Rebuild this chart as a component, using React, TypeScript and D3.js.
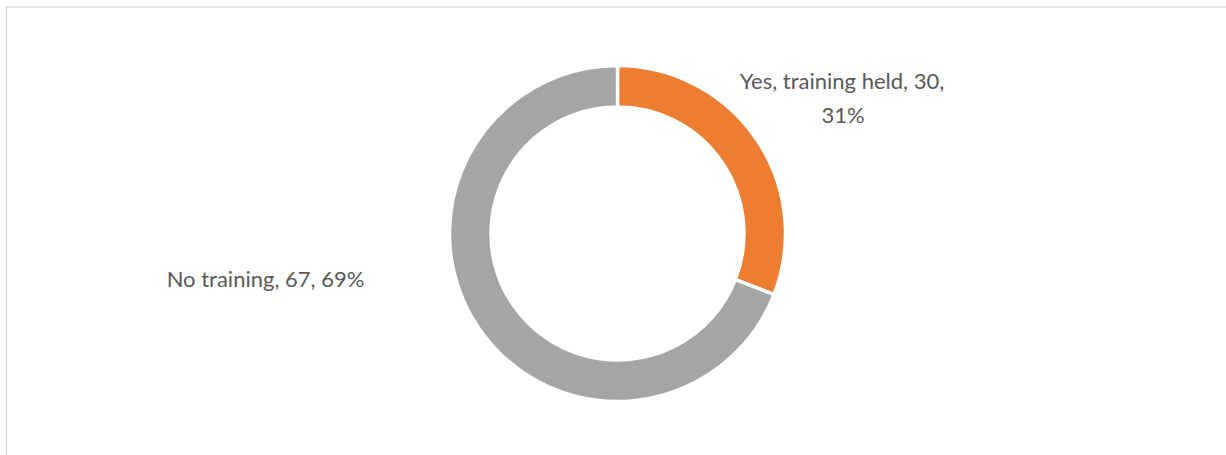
import React from 'react';
import * as d3 from 'd3';

const categories = ['Yes, training held', 'No training'];
const values = [30, 67];
const percents = ['31%', '69%'];
const colors = ['#ED7D31', '#A5A5A5'];

const width = 1226;
const height = 455;
const cx = 617.5;
const cy = 233.5;
const outerR = 168;
const innerR = 126.5;

const App = () => {
    const pie = d3.pie<number>()
        .sort(null)
        .startAngle(0)
        .endAngle(2 * Math.PI)
        .value(d => d);

    const arc = d3.arc<d3.PieArcDatum<number>>()
        .innerRadius(innerR)
        .outerRadius(outerR);

    const slices = pie(values);

    const font = "Lato, 'Open Sans', sans-serif";

    return (
        <svg width={width} height={height} style={{ position: 'absolute', left: 0, top: 0 }}>
            <rect x={6.5} y={7} width={width + 20} height={height + 20} fill="#FFFFFF" stroke="#D9D9D9" strokeWidth={1.5} />
            <g transform={`translate(${cx},${cy})`}>
                {slices.map((s, i) => (
                    <path key={categories[i]} d={arc(s) || ''} fill={colors[i]} stroke="#FFFFFF" strokeWidth={3.5} strokeLinejoin="miter" />
                ))}
            </g>
            {/* data labels */}
            <text fontFamily={font} fontSize={22} fill="#595959" textAnchor="middle">
                <tspan x={842} y={89}>{`${categories[0]}, ${values[0]},`}</tspan>
                <tspan x={843} y={123}>{percents[0]}</tspan>
            </text>
            <text fontFamily={font} fontSize={22} fill="#595959" textAnchor="middle" x={265.5} y={287}>
                {`${categories[1]}, ${values[1]}, ${percents[1]}`}
            </text>
        </svg>
    );
};

export default App;
